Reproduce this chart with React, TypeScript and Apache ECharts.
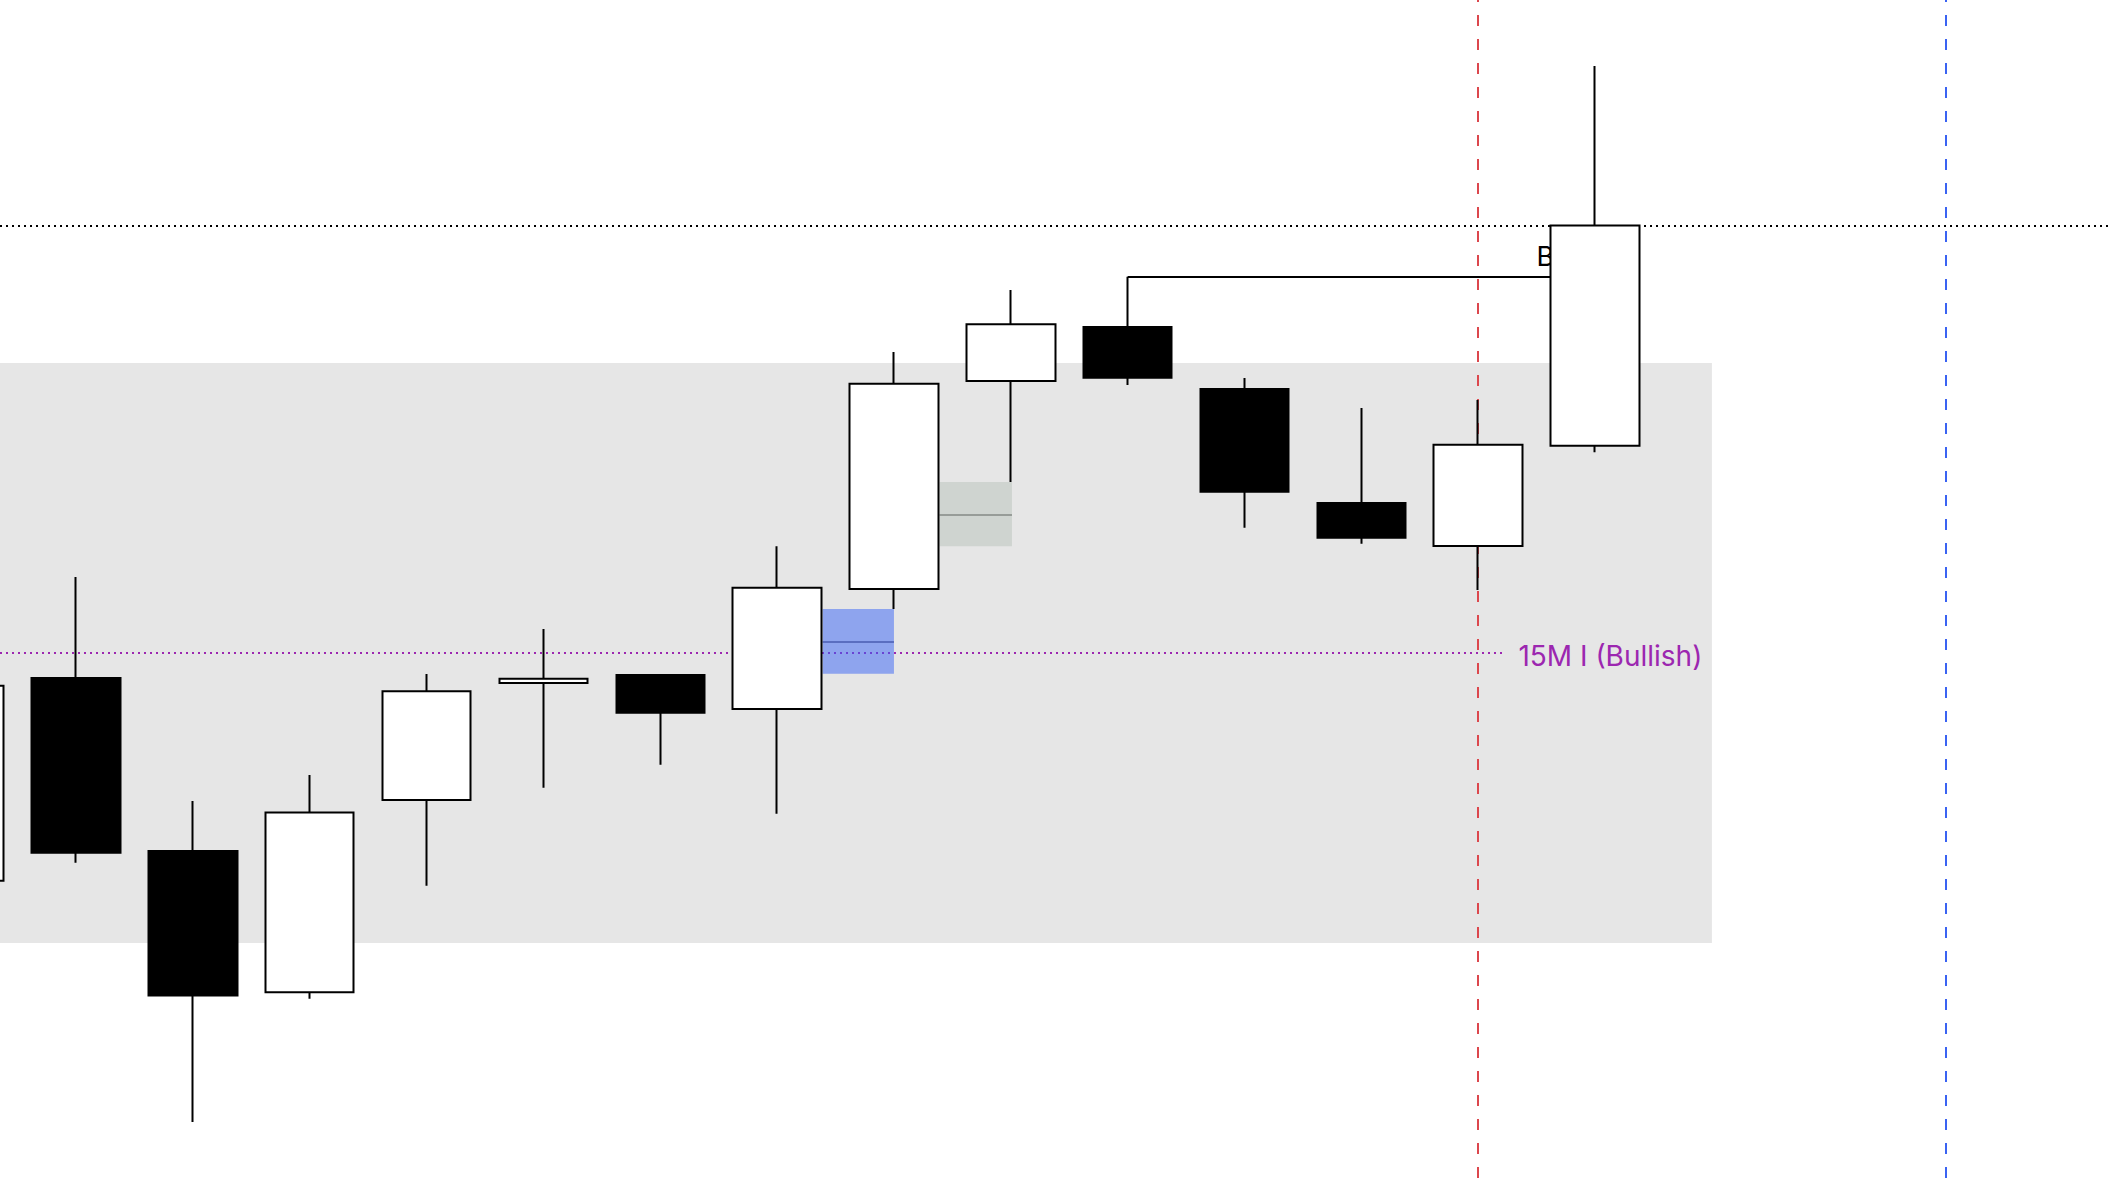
import React, { useEffect, useRef } from "react";
import * as echarts from "echarts";

// ---- Data (prices in arbitrary chart units, bars indexed from the partly hidden left bar) ----
const BARS = [0, 1, 2, 3, 4, 5, 6, 7, 8, 9, 10, 11, 12, 13, 14];
const OPEN = [129.72, 150.0, 132.7, 118.58, 137.8, 149.5, 150.3, 146.9, 158.9, 179.7, 185.1, 178.9, 167.5, 163.2, 173.23];
const CLOSE = [149.23, 132.53, 118.25, 136.55, 148.67, 149.93, 146.53, 159.03, 179.43, 185.37, 180.03, 168.63, 164.03, 173.33, 195.25];
const LOW = [127.5, 131.53, 105.6, 117.93, 129.23, 139.03, 141.33, 136.43, 156.9, 169.6, 179.3, 165.03, 163.43, 158.8, 172.57];
const HIGH = [151.5, 160.1, 137.7, 140.3, 150.4, 154.9, 150.4, 163.17, 182.6, 188.8, 190.13, 180.0, 177.0, 177.8, 211.2];

const LAST_PRICE = 195.25;

// range zone (bottom, top) and its bar span (right end)
const ZONE_PRICE = [123.51, 181.5];
const ZONE_END_BAR = 15;

// 15M level
const LEVEL_PRICE = 152.53;
const LEVEL_END_BAR = 13.22;
const LEVEL_LABEL = "15M I (Bullish)";

// fair value gaps: [startBar, endBar], [low, high], mid
const FVG_BARS = [
  [7.39, 8.0],
  [8.39, 9.01],
];
const FVG_PRICES = [
  [150.43, 156.9],
  [163.17, 169.6],
];
const FVG_MID = [153.65, 166.35];

// break level
const BREAK_PRICE = 190.13;
const BREAK_BARS = [10, 14];
const BREAK_LABEL = "B";
const BREAK_LABEL_POS = [13.495, 192.16];

// session lines
const SESSION_BARS = [13, 17];

// ---- Axis ranges ----
const PRICE_MIN = 100;
const PRICE_MAX = 217.8;
const BAR_MIN = 0.3496;
const BAR_MAX = 18.4069;

const FONT = "Inter, 'Noto Sans', 'DejaVu Sans', sans-serif";
const PURPLE = "#9c27b0";

export default function App() {
  const ref = useRef<HTMLDivElement>(null);

  useEffect(() => {
    if (!ref.current) return;
    const chart = echarts.init(ref.current, undefined, { renderer: "svg" });

    const candles = BARS.map((b, i) => [b, OPEN[i], CLOSE[i], LOW[i], HIGH[i]]);

    const option: any = {
      animation: false,
      backgroundColor: "#ffffff",
      grid: { left: 0, right: 0, top: 0, bottom: 0, containLabel: false },
      xAxis: {
        type: "value",
        min: BAR_MIN,
        max: BAR_MAX,
        show: false,
        splitLine: { show: false },
      },
      yAxis: {
        type: "value",
        min: PRICE_MIN,
        max: PRICE_MAX,
        show: false,
        splitLine: { show: false },
      },
      series: [
        {
          type: "line",
          name: "zone",
          data: [],
          silent: true,
          z: 1,
          markArea: {
            silent: true,
            z: 1,
            itemStyle: { color: "#e6e6e6" },
            data: [
              [
                { xAxis: BAR_MIN, yAxis: ZONE_PRICE[0] },
                { xAxis: ZONE_END_BAR, yAxis: ZONE_PRICE[1] },
              ],
            ],
          },
          markLine: {
            silent: true,
            z: 2,
            symbol: ["none", "none"],
            animation: false,
            lineStyle: { color: PURPLE, width: 2, type: [2, 4] },
            label: { show: false },
            emphasis: { disabled: true },
            data: [
              [
                { coord: [BAR_MIN, LEVEL_PRICE] },
                { coord: [LEVEL_END_BAR, LEVEL_PRICE] },
              ],
            ],
          },
          markPoint: {
            silent: true,
            z: 2,
            symbol: "circle",
            symbolSize: 1,
            itemStyle: { color: "rgba(0,0,0,0)" },
            label: {
              show: true,
              position: "right",
              distance: 14,
              offset: [0, 3],
              formatter: LEVEL_LABEL,
              color: PURPLE,
              fontSize: 28,
              fontFamily: FONT,
            },
            data: [{ coord: [LEVEL_END_BAR, LEVEL_PRICE], value: LEVEL_LABEL }],
          },
        },
        {
          type: "line",
          name: "fvg",
          data: [],
          silent: true,
          z: 3,
          markArea: {
            silent: true,
            z: 3,
            data: [
              [
                {
                  xAxis: FVG_BARS[0][0],
                  yAxis: FVG_PRICES[0][0],
                  itemStyle: { color: "rgba(54,98,246,0.5)" },
                },
                { xAxis: FVG_BARS[0][1], yAxis: FVG_PRICES[0][1] },
              ],
              [
                {
                  xAxis: FVG_BARS[1][0],
                  yAxis: FVG_PRICES[1][0],
                  itemStyle: { color: "#cfd4d0" },
                },
                { xAxis: FVG_BARS[1][1], yAxis: FVG_PRICES[1][1] },
              ],
            ],
          },
          markLine: {
            silent: true,
            z: 4,
            symbol: ["none", "none"],
            animation: false,
            label: { show: false },
            emphasis: { disabled: true },
            data: [
              [
                {
                  coord: [FVG_BARS[0][0], FVG_MID[0]],
                  lineStyle: { color: "#5a6ec0", width: 2, type: "solid" },
                },
                { coord: [FVG_BARS[0][1], FVG_MID[0]] },
              ],
              [
                {
                  coord: [FVG_BARS[1][0], FVG_MID[1]],
                  lineStyle: { color: "#979c98", width: 2, type: "solid" },
                },
                { coord: [FVG_BARS[1][1], FVG_MID[1]] },
              ],
            ],
          },
        },
        {
          type: "line",
          name: "levels",
          data: [],
          silent: true,
          z: 5,
          markLine: {
            silent: true,
            z: 5,
            symbol: ["none", "none"],
            animation: false,
            label: { show: false },
            emphasis: { disabled: true },
            data: [
              {
                xAxis: SESSION_BARS[0],
                lineStyle: { color: "#dc474d", width: 2, type: [11, 13] },
              },
              {
                xAxis: SESSION_BARS[1],
                lineStyle: { color: "#3a63f2", width: 2, type: [11, 13] },
              },
              {
                yAxis: LAST_PRICE,
                lineStyle: { color: "#000000", width: 2, type: [2, 4] },
              },
              [
                {
                  coord: [BREAK_BARS[0], BREAK_PRICE],
                  lineStyle: { color: "#000000", width: 2, type: "solid" },
                },
                { coord: [BREAK_BARS[1], BREAK_PRICE] },
              ],
            ],
          },
          markPoint: {
            silent: true,
            z: 5,
            symbol: "circle",
            symbolSize: 1,
            itemStyle: { color: "rgba(0,0,0,0)" },
            label: {
              show: true,
              position: "right",
              distance: 0,
              formatter: BREAK_LABEL,
              color: "#000000",
              fontSize: 27,
              fontFamily: FONT,
            },
            data: [{ coord: BREAK_LABEL_POS, value: BREAK_LABEL }],
          },
        },
        {
          type: "candlestick",
          name: "price",
          z: 10,
          silent: true,
          clip: false,
          barWidth: 89,
          encode: { x: 0, y: [1, 2, 3, 4] },
          itemStyle: {
            color: "#ffffff",
            color0: "#000000",
            borderColor: "#000000",
            borderColor0: "#000000",
            borderWidth: 2,
          },
          emphasis: { disabled: true },
          data: candles,
        },
      ],
    };

    chart.setOption(option);
    return () => {
      chart.dispose();
    };
  }, []);

  return (
    <div
      ref={ref}
      style={{
        position: "fixed",
        left: 0,
        top: 0,
        width: 2110,
        height: 1178,
        background: "#ffffff",
      }}
    />
  );
}
